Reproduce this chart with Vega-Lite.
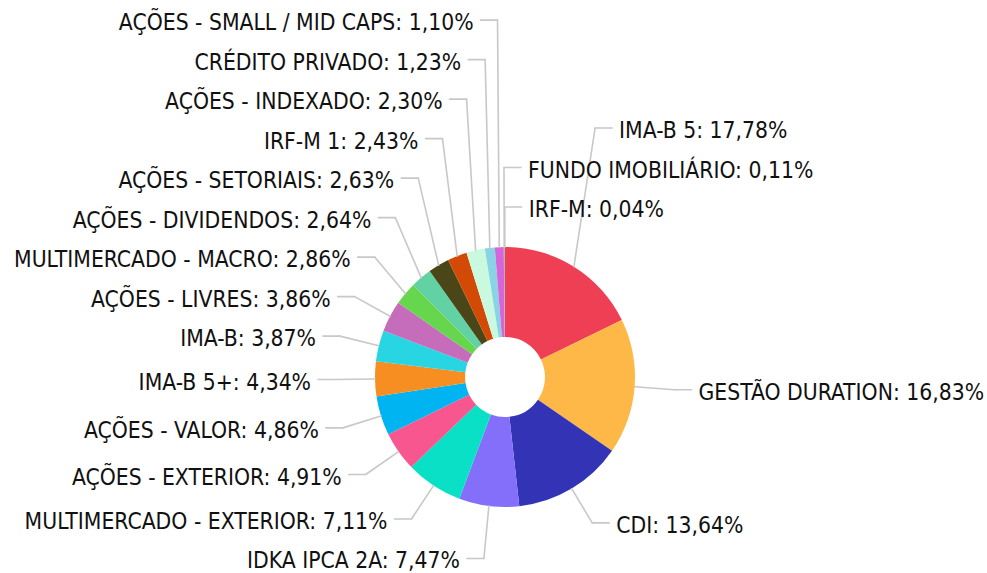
{
  "$schema": "https://vega.github.io/schema/vega-lite/v6.json",
  "width": 964,
  "height": 392,
  "autosize": {"type": "none"},
  "padding": {"left": 23, "top": 181, "right": 0, "bottom": 0},
  "background": "white",
  "config": {"view": {"stroke": null}},
  "data": {"values": [
    {"name": "IMA-B 5", "value": 17.78},
    {"name": "GESTÃO DURATION", "value": 16.83},
    {"name": "CDI", "value": 13.64},
    {"name": "IDKA IPCA 2A", "value": 7.47},
    {"name": "MULTIMERCADO - EXTERIOR", "value": 7.11},
    {"name": "AÇÕES - EXTERIOR", "value": 4.91},
    {"name": "AÇÕES - VALOR", "value": 4.86},
    {"name": "IMA-B 5+", "value": 4.34},
    {"name": "IMA-B", "value": 3.87},
    {"name": "AÇÕES - LIVRES", "value": 3.86},
    {"name": "MULTIMERCADO - MACRO", "value": 2.86},
    {"name": "AÇÕES - DIVIDENDOS", "value": 2.64},
    {"name": "AÇÕES - SETORIAIS", "value": 2.63},
    {"name": "IRF-M 1", "value": 2.43},
    {"name": "AÇÕES - INDEXADO", "value": 2.30},
    {"name": "CRÉDITO PRIVADO", "value": 1.23},
    {"name": "AÇÕES - SMALL / MID CAPS", "value": 1.10},
    {"name": "FUNDO IMOBILIÁRIO", "value": 0.11},
    {"name": "IRF-M", "value": 0.04}
  ]},
  "transform": [
    {"joinaggregate": [{"op": "sum", "field": "value", "as": "total"}]},
    {"window": [{"op": "sum", "field": "value", "as": "cum"}], "sort": [{"field": "value", "order": "descending"}], "frame": [null, 0]},
    {"calculate": "(datum.cum - datum.value) / datum.total * 2 * PI", "as": "a0"},
    {"calculate": "datum.cum / datum.total * 2 * PI", "as": "a1"},
    {"calculate": "(datum.a0 + datum.a1) / 2", "as": "mid"},
    {"calculate": "130 * sin(datum.mid)", "as": "ex"},
    {"calculate": "-130 * cos(datum.mid)", "as": "ey"},
    {"calculate": "170 * sin(datum.mid)", "as": "nx"},
    {"calculate": "-170 * cos(datum.mid)", "as": "ny"},
    {"calculate": "sin(datum.mid) > -0.01 ? 'R' : 'L'", "as": "side"},
    {"calculate": "datum.ny < 0 ? 'top' : 'bottom'", "as": "half"},
    {"calculate": "datum.side == 'L' ? -datum.mid : (datum.mid > PI ? datum.mid - 2 * PI + 0.7 : datum.mid)", "as": "key"},
    {"window": [{"op": "row_number", "as": "rk"}], "groupby": ["side", "half"], "sort": [{"field": "key", "order": "ascending"}]},
    {"calculate": "datum.ny - 39.5 * datum.rk", "as": "v"},
    {"window": [{"op": "min", "field": "v", "as": "vmin"}], "groupby": ["side", "half"], "sort": [{"field": "key", "order": "ascending"}], "frame": [0, null]},
    {"window": [{"op": "max", "field": "v", "as": "vmax"}], "groupby": ["side", "half"], "sort": [{"field": "key", "order": "ascending"}], "frame": [null, 0]},
    {"calculate": "(datum.half == 'top' ? datum.vmin : datum.vmax) + 39.5 * datum.rk", "as": "ly"},
    {"calculate": "datum.side == 'R' ? datum.nx + 17 : datum.nx - 17", "as": "px"},
    {"calculate": "datum.side == 'R' ? datum.px + 7 : datum.px - 7", "as": "tx"},
    {"calculate": "datum.name + ': ' + replace(format(datum.value, '.2f'), '.', ',') + '%'", "as": "label"}
  ],
  "layer": [
    {
      "mark": {"type": "arc", "innerRadius": 40, "outerRadius": 130},
      "encoding": {
        "theta": {"field": "a0", "type": "quantitative", "scale": null},
        "theta2": {"field": "a1"},
        "color": {
          "field": "name", "type": "nominal", "legend": null,
          "scale": {
            "domain": ["IMA-B 5", "GESTÃO DURATION", "CDI", "IDKA IPCA 2A", "MULTIMERCADO - EXTERIOR", "AÇÕES - EXTERIOR", "AÇÕES - VALOR", "IMA-B 5+", "IMA-B", "AÇÕES - LIVRES", "MULTIMERCADO - MACRO", "AÇÕES - DIVIDENDOS", "AÇÕES - SETORIAIS", "IRF-M 1", "AÇÕES - INDEXADO", "CRÉDITO PRIVADO", "AÇÕES - SMALL / MID CAPS", "FUNDO IMOBILIÁRIO", "IRF-M"],
            "range": ["#ee3f55", "#feb847", "#3334b5", "#836ffa", "#0ae0c6", "#f7568e", "#00b3f1", "#f68e22", "#27d5e3", "#c56dba", "#66d64f", "#62d1a3", "#4b4617", "#d24a05", "#c9fadf", "#88d4e5", "#d566d9", "#a9a9a9", "#8c8c8c"]
          }
        }
      }
    },
    {
      "mark": {"type": "rule", "color": "#c8c8c8", "strokeWidth": 1.6, "strokeCap": "round"},
      "encoding": {
        "x": {"field": "ex", "type": "quantitative", "scale": {"domain": [-482, 482], "nice": false, "zero": false}, "axis": null},
        "y": {"field": "ey", "type": "quantitative", "scale": {"domain": [-196, 196], "reverse": true, "nice": false, "zero": false}, "axis": null},
        "x2": {"field": "nx"},
        "y2": {"field": "ly"}
      }
    },
    {
      "mark": {"type": "rule", "color": "#c8c8c8", "strokeWidth": 1.6, "strokeCap": "round"},
      "encoding": {
        "x": {"field": "nx", "type": "quantitative", "scale": {"domain": [-482, 482], "nice": false, "zero": false}, "axis": null},
        "y": {"field": "ly", "type": "quantitative", "scale": {"domain": [-196, 196], "reverse": true, "nice": false, "zero": false}, "axis": null},
        "x2": {"field": "px"},
        "y2": {"field": "ly"}
      }
    },
    {
      "transform": [{"filter": "datum.side == 'L'"}],
      "mark": {"type": "text", "align": "right", "baseline": "middle", "dy": 3, "font": "DejaVu Sans Condensed", "fontSize": 22.7, "color": "#111111"},
      "encoding": {
        "x": {"field": "tx", "type": "quantitative", "scale": {"domain": [-482, 482], "nice": false, "zero": false}, "axis": null},
        "y": {"field": "ly", "type": "quantitative", "scale": {"domain": [-196, 196], "reverse": true, "nice": false, "zero": false}, "axis": null},
        "text": {"field": "label"}
      }
    },
    {
      "transform": [{"filter": "datum.side == 'R'"}],
      "mark": {"type": "text", "align": "left", "baseline": "middle", "dy": 3, "font": "DejaVu Sans Condensed", "fontSize": 22.7, "color": "#111111"},
      "encoding": {
        "x": {"field": "tx", "type": "quantitative", "scale": {"domain": [-482, 482], "nice": false, "zero": false}, "axis": null},
        "y": {"field": "ly", "type": "quantitative", "scale": {"domain": [-196, 196], "reverse": true, "nice": false, "zero": false}, "axis": null},
        "text": {"field": "label"}
      }
    }
  ]
}
